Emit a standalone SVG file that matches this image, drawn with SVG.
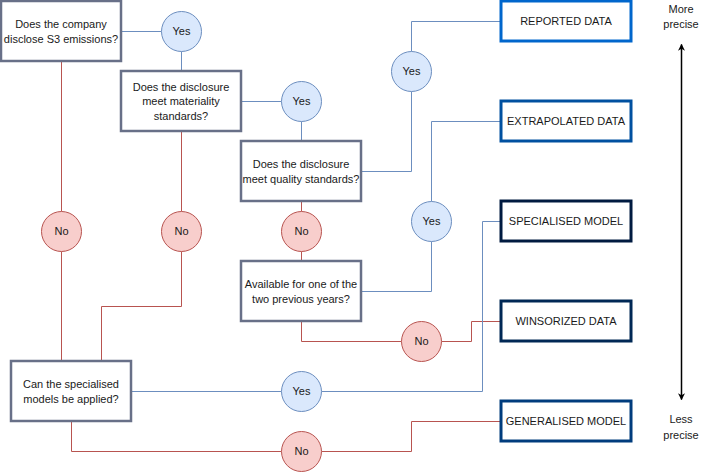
<svg xmlns="http://www.w3.org/2000/svg" width="711" height="472" viewBox="0 0 711 472">
<defs>
<style>
text{font-family:"Liberation Sans",Arial,sans-serif;font-size:11px;fill:#1a1a1a;text-anchor:middle}
.q{fill:#fff;stroke:#687088;stroke-width:2.5}
.yes{fill:#dae8fc;stroke:#6c8ebf;stroke-width:1}
.no{fill:#f8cecc;stroke:#b85450;stroke-width:1}
.bl{fill:none;stroke:#6c8ebf;stroke-width:1}
.rd{fill:none;stroke:#b85450;stroke-width:1}
.out{fill:#fff;stroke-width:3}
</style>
<marker id="ah" viewBox="0 0 10 10" refX="9" refY="5" markerWidth="7" markerHeight="7" orient="auto-start-reverse" markerUnits="userSpaceOnUse">
<path d="M0,0 L10,5 L0,10 L3,5 Z" fill="#000"/>
</marker>
</defs>
<rect width="711" height="472" fill="#fff"/>
<g id="connectors" transform="translate(0.5,0.5)">
<path class="bl" d="M121,31 H161"/>
<path class="bl" d="M181,51 V71"/>
<path class="bl" d="M241,101 H281"/>
<path class="bl" d="M301,121 V141"/>
<path class="bl" d="M361,171 H411 V91"/>
<path class="bl" d="M411,51 V21 H501"/>
<path class="rd" d="M301,201 V211"/>
<path class="rd" d="M301,251 V261"/>
<path class="bl" d="M361,291 H431 V241"/>
<path class="bl" d="M431,201 V121 H501"/>
<path class="rd" d="M301,321 V341 H401"/>
<path class="rd" d="M441,341 H471 V321 H501"/>
<path class="rd" d="M61,61 V211"/>
<path class="rd" d="M61,251 V361"/>
<path class="rd" d="M181,131 V211"/>
<path class="rd" d="M181,251 V306 H101 V361"/>
<path class="bl" d="M131,391 H281"/>
<path class="bl" d="M321,391 H482 V221 H501"/>
<path class="rd" d="M71,421 V451 H281"/>
<path class="rd" d="M321,451 H411 V421 H501"/>
<path d="M681,44 V399" stroke="#000" stroke-width="1.5" fill="none" marker-start="url(#ah)" marker-end="url(#ah)"/>
</g>
<g id="q1"><rect class="q" x="1" y="1" width="120" height="60"/><text x="61" y="28">Does the company</text><text x="61" y="43">disclose S3 emissions?</text></g>
<g id="q2"><rect class="q" x="121" y="71" width="120" height="60"/><text x="181" y="91">Does the disclosure</text><text x="181" y="105">meet materiality</text><text x="181" y="120">standards?</text></g>
<g id="q3"><rect class="q" x="241" y="141" width="120" height="60"/><text x="301" y="168">Does the disclosure</text><text x="301" y="183">meet quality standards?</text></g>
<g id="q4"><rect class="q" x="241" y="261" width="120" height="60"/><text x="301" y="288">Available for one of the</text><text x="301" y="303">two previous years?</text></g>
<g id="q5"><rect class="q" x="11" y="361" width="120" height="60"/><text x="71" y="388">Can the specialised</text><text x="71" y="403">models be applied?</text></g>
<g id="yes1"><circle class="yes" cx="181.5" cy="31.5" r="20"/><text x="181.5" y="35">Yes</text></g>
<g id="yes2"><circle class="yes" cx="301.5" cy="101.5" r="20"/><text x="301.5" y="105">Yes</text></g>
<g id="yes3"><circle class="yes" cx="411.5" cy="71.5" r="20"/><text x="411.5" y="75">Yes</text></g>
<g id="yes4"><circle class="yes" cx="431.5" cy="221.5" r="20"/><text x="431.5" y="225">Yes</text></g>
<g id="yes5"><circle class="yes" cx="301.5" cy="391.5" r="20"/><text x="301.5" y="395">Yes</text></g>
<g id="no1"><circle class="no" cx="61.5" cy="231.5" r="20"/><text x="61.5" y="235">No</text></g>
<g id="no2"><circle class="no" cx="181.5" cy="231.5" r="20"/><text x="181.5" y="235">No</text></g>
<g id="no3"><circle class="no" cx="301.5" cy="231.5" r="20"/><text x="301.5" y="235">No</text></g>
<g id="no4"><circle class="no" cx="421.5" cy="341.5" r="20"/><text x="421.5" y="345">No</text></g>
<g id="no5"><circle class="no" cx="301.5" cy="451.5" r="20"/><text x="301.5" y="455">No</text></g>
<g id="reported"><rect class="out" x="501" y="1" width="130" height="40" stroke="#0066cc"/><text x="566" y="25">REPORTED DATA</text></g>
<g id="extrapolated"><rect class="out" x="501" y="101" width="130" height="40" stroke="#0050a0"/><text x="566" y="125">EXTRAPOLATED DATA</text></g>
<g id="specialised"><rect class="out" x="501" y="201" width="130" height="40" stroke="#001a40"/><text x="566" y="225">SPECIALISED MODEL</text></g>
<g id="winsorized"><rect class="out" x="501" y="301" width="130" height="40" stroke="#002855"/><text x="566" y="325">WINSORIZED DATA</text></g>
<g id="generalised"><rect class="out" x="501" y="401" width="130" height="40" stroke="#003c7d"/><text x="566" y="425">GENERALISED MODEL</text></g>
<g id="scale-labels"><text x="681" y="13">More</text><text x="681" y="28">precise</text><text x="681" y="423">Less</text><text x="681" y="439">precise</text></g>
</svg>
